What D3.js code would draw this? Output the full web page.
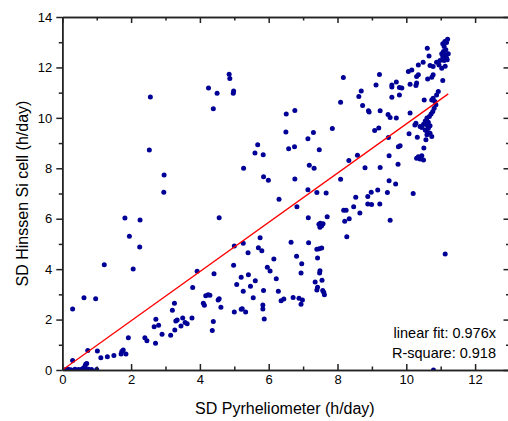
<!DOCTYPE html>
<html>
<head>
<meta charset="utf-8">
<script src="https://cdn.jsdelivr.net/npm/d3@7"></script>
<style>
  body { margin: 0; background: #fff; }
  svg text { font-family: "Liberation Sans", Arial, sans-serif; fill: #000; }
  .axis path, .axis line { stroke: #222; }
</style>
</head>
<body>
<div id="chart"></div>
<script>
// SD pyrheliometer (h/day) - x values
var pyrheliometer = [
  2.56, 2.53, 2.96, 2.95,
  4.25, 4.50, 4.85, 4.87, 4.98, 4.97, 4.39, 8.17, 8.09, 6.51, 6.76, 6.50, 7.85, 7.14, 7.30,
  5.68, 5.60, 5.84, 6.58, 6.75, 7.47, 5.27, 5.85, 5.99, 7.18, 7.32, 6.76, 8.09, 8.33,
  7.14, 7.40, 7.67, 6.30,
  9.12, 9.22, 8.69, 8.62, 8.73, 8.90, 8.92, 9.24, 9.47, 9.53, 9.71, 9.08, 9.20, 9.48,
  8.58, 8.80, 9.24, 9.50, 9.77, 9.82, 9.76, 9.50, 9.69, 9.17, 8.98, 8.88, 8.53, 9.45, 10.20,
  9.58, 9.58, 9.58, 9.71, 9.80, 9.80,
  11.20, 11.17, 11.06, 11.10, 10.61, 11.15, 11.08, 11.03, 11.13, 11.06, 11.17, 11.10, 10.98,
  10.88, 10.95, 11.22, 10.66, 10.49, 10.35, 10.69, 10.78, 11.03, 10.16, 10.06, 10.35, 10.30,
  10.78, 10.74, 10.62, 11.06, 10.11, 10.30, 10.28, 9.87, 11.12, 11.13, 11.19,
  10.93, 10.88, 10.78, 10.74, 10.83, 10.52, 10.86, 10.81, 10.77, 10.72, 10.67, 10.11,
  10.60, 10.55, 10.64, 10.50, 10.60, 10.69, 10.45, 10.64, 10.55, 10.60, 10.69, 10.74, 10.60,
  10.28, 10.25, 10.40, 10.08, 10.32, 10.57, 10.51, 10.35, 10.45, 10.40, 10.50, 10.30,
  8.18, 8.25, 8.21, 8.34, 8.27, 8.47, 8.65, 8.88, 8.99, 9.23, 9.53, 11.13, 10.79,
  1.82, 2.26, 1.95, 2.25, 1.22, 2.06, 0.30, 0.63, 0.97, 3.92, 3.79, 4.17, 4.24, 4.10, 4.13,
  2.72, 2.80, 2.67, 2.90, 3.26, 3.20, 3.34, 3.30, 3.50, 3.45, 3.57, 3.63, 3.77, 3.27, 3.15,
  2.71, 2.40, 2.46, 1.92, 1.73, 1.77, 1.85, 1.71, 1.50, 1.31, 1.12, 1.02, 0.74, 0.30, 0.71,
  0.66, 0.61, 0.68, 0.10, 0.17, 0.25, 0.37, 0.47, 0.56, 0.66, 0.76, 0.85, 1.00,
  6.82, 7.15, 7.70, 7.46, 7.50, 7.54, 7.49, 7.58, 4.56, 5.00, 5.26, 5.75, 5.70, 5.80, 5.40,
  6.65, 7.16, 7.40, 7.47, 7.54, 6.15, 6.81, 6.96, 7.42, 5.96, 6.04, 4.98, 6.94, 7.49, 7.48,
  4.41, 5.41, 5.20, 5.61, 6.22, 5.07, 5.47, 5.26, 5.85, 6.28, 7.35, 7.55, 7.42, 7.40, 7.57,
  7.60, 7.62, 4.29, 4.53, 4.56, 4.61, 5.55, 6.36, 6.44, 6.71, 6.88, 6.98, 6.94, 5.83, 5.83,
  5.87, 5.00, 5.20, 5.23, 5.33, 4.39, 4.36
];

// SD Hinssen Si cell (h/day) - y values
var hinssen = [
  10.83, 8.73, 7.73, 7.05,
  11.18, 10.98, 11.73, 11.56, 11.07, 10.98, 10.36, 11.60, 10.62, 10.15, 10.29, 9.44, 9.58, 9.17, 9.42,
  8.93, 8.61, 8.54, 8.77, 8.85, 8.74, 8.00, 7.66, 7.53, 8.12, 8.00, 7.58, 7.57, 8.31,
  7.15, 7.04, 7.02, 6.77,
  11.30, 11.72, 11.07, 10.85, 10.49, 10.28, 10.23, 10.28, 10.13, 10.01, 9.99, 9.50, 9.60, 9.22,
  8.52, 8.02, 8.03, 8.50, 8.85, 8.89, 8.16, 7.51, 7.38, 7.14, 7.05, 6.88, 6.85, 7.04, 7.00,
  11.30, 11.22, 10.82, 11.42, 11.20, 10.91,
  13.12, 12.99, 12.94, 12.83, 12.76, 12.70, 12.63, 12.54, 12.50, 12.41, 12.37, 12.27, 12.27,
  12.21, 12.10, 12.54, 12.45, 12.21, 12.10, 12.08, 12.04, 11.97, 11.90, 11.84, 11.71, 11.64,
  11.71, 11.61, 11.54, 11.48, 11.33, 11.38, 11.28, 11.18, 13.03, 12.05, 12.30,
  11.05, 10.91, 10.78, 10.71, 10.65, 10.71, 10.52, 10.38, 10.25, 10.15, 10.05, 10.19,
  9.99, 9.88, 9.83, 9.75, 9.72, 9.69, 9.62, 9.59, 9.52, 9.46, 9.39, 9.26, 9.33,
  9.79, 9.72, 9.66, 9.37, 9.23, 9.13, 8.80, 8.46, 8.50, 8.37, 8.33, 8.40,
  6.34, 6.34, 5.90, 6.00, 5.28, 6.47, 6.23, 6.58, 6.56, 6.58, 5.94, 4.60, 0.00,
  6.03, 5.95, 5.30, 4.88, 4.17, 4.01, 2.42, 2.87, 2.83, 3.92, 3.27, 2.94, 2.98, 2.65, 2.57,
  2.01, 1.77, 1.72, 1.42, 2.65, 2.37, 1.98, 1.94, 2.06, 1.75, 1.88, 1.83, 2.06, 1.59, 1.38,
  1.06, 1.28, 1.16, 1.28, 0.73, 0.79, 0.63, 0.63, 0.58, 0.53, 0.49, 0.75, 0.77, 0.38, 0.26,
  0.16, 0.07, 0.23, 0.02, 0.03, 0.01, 0.03, 0.02, 0.03, 0.02, 0.03, 0.02, 0.02,
  6.47, 6.04, 6.08, 5.78, 5.82, 5.72, 5.66, 5.80, 6.04, 4.92, 5.03, 5.25, 4.85, 4.73, 4.65,
  5.07, 5.05, 4.79, 4.81, 4.84, 4.40, 4.51, 4.21, 4.44, 4.08, 3.93, 4.15, 3.85, 3.94, 3.85,
  3.82, 3.78, 3.68, 3.54, 3.62, 3.39, 3.32, 3.12, 3.15, 3.12, 3.49, 3.56, 3.28, 3.17, 3.15,
  3.08, 2.98, 2.96, 2.78, 2.83, 2.49, 2.87, 2.75, 2.82, 2.88, 2.85, 2.78, 2.61, 2.58, 2.42,
  2.02, 2.30, 2.41, 2.43, 2.30, 1.92, 1.57
];

var slope = 0.976;
var fitLabels = ['linear fit: 0.976x', 'R-square: 0.918'];
var xMajorTicks = [0, 2, 4, 6, 8, 10, 12];
var xMinorTicks = [1, 3, 5, 7, 9, 11, 13];
var yMajorTicks = [0, 2, 4, 6, 8, 10, 12, 14];
var yMinorTicks = [1, 3, 5, 7, 9, 11, 13];

var width = 508, height = 421;
var margin = {top: 17, right: -1.5, bottom: 51, left: 62.3};
var w = width - margin.left - margin.right;
var h = height - margin.top - margin.bottom;

var svg = d3.select('#chart').append('svg')
  .attr('width', width)
  .attr('height', height);

var g = svg.append('g')
  .attr('transform', 'translate(' + margin.left + ',' + margin.top + ')');

var x = d3.scaleLinear().domain([0, 13]).range([0, w]);
var y = d3.scaleLinear().domain([0, 14]).range([h, 0]);

g.append('clipPath').attr('id', 'plot-clip')
  .append('rect').attr('width', w).attr('height', h);

var points = pyrheliometer.map(function(d, i) { return {x: d, y: hinssen[i]}; });

var plot = g.append('g').attr('clip-path', 'url(#plot-clip)');

plot.selectAll('circle.dot')
  .data(points)
  .enter().append('circle')
  .attr('class', 'dot')
  .attr('cx', function(d) { return x(d.x); })
  .attr('cy', function(d) { return y(d.y); })
  .attr('r', 2.5)
  .attr('fill', '#000096');

var xMax = d3.max(pyrheliometer);
plot.append('line')
  .attr('x1', x(0)).attr('y1', y(0))
  .attr('x2', x(xMax)).attr('y2', y(slope * xMax))
  .attr('stroke', '#ff0000')
  .attr('stroke-width', 1.3);

function drawAxis(axis, transform) {
  var a = g.append('g').attr('class', 'axis')
    .attr('transform', transform)
    .call(axis);
  a.selectAll('path, line').attr('stroke-width', 1.5);
  a.selectAll('text').attr('font-size', 13);
  return a;
}

// bottom: inward ticks with labels
drawAxis(d3.axisBottom(x).tickValues(xMajorTicks).tickSizeInner(-6).tickSizeOuter(0).tickPadding(5)
  .tickFormat(d3.format('d')), 'translate(0,' + h + ')');
drawAxis(d3.axisBottom(x).tickValues(xMinorTicks).tickSizeInner(-3.5).tickSizeOuter(0).tickFormat(''),
  'translate(0,' + h + ')');

// left: outward ticks with labels
drawAxis(d3.axisLeft(y).tickValues(yMajorTicks).tickSizeInner(6).tickSizeOuter(0).tickPadding(4)
  .tickFormat(d3.format('d')), null);
drawAxis(d3.axisLeft(y).tickValues(yMinorTicks).tickSizeInner(3.5).tickSizeOuter(0).tickFormat(''), null);

// top and right frame, inward ticks
drawAxis(d3.axisTop(x).tickValues(xMajorTicks).tickSizeInner(-6).tickSizeOuter(0).tickFormat(''), null);
drawAxis(d3.axisTop(x).tickValues(xMinorTicks).tickSizeInner(-3.5).tickSizeOuter(0).tickFormat(''), null);
drawAxis(d3.axisRight(y).tickValues(yMajorTicks).tickSizeInner(-6).tickSizeOuter(0).tickFormat(''),
  'translate(' + w + ',0)');
drawAxis(d3.axisRight(y).tickValues(yMinorTicks).tickSizeInner(-3.5).tickSizeOuter(0).tickFormat(''),
  'translate(' + w + ',0)');

// axis titles
g.append('text')
  .attr('x', w / 2 - 1)
  .attr('y', h + 44)
  .attr('text-anchor', 'middle')
  .attr('font-size', 16)
  .text('SD Pyrheliometer (h/day)');

g.append('text')
  .attr('transform', 'translate(-34,' + (h / 2) + ') rotate(-90)')
  .attr('text-anchor', 'middle')
  .attr('font-size', 16)
  .text('SD Hinssen Si cell (h/day)');

// fit annotation
g.selectAll('text.fit')
  .data(fitLabels)
  .enter().append('text')
  .attr('class', 'fit')
  .attr('x', 496 - margin.left)
  .attr('y', function(d, i) { return 338 - margin.top + i * 20; })
  .attr('text-anchor', 'end')
  .attr('font-size', 14.5)
  .text(function(d) { return d; });
</script>
</body>
</html>
